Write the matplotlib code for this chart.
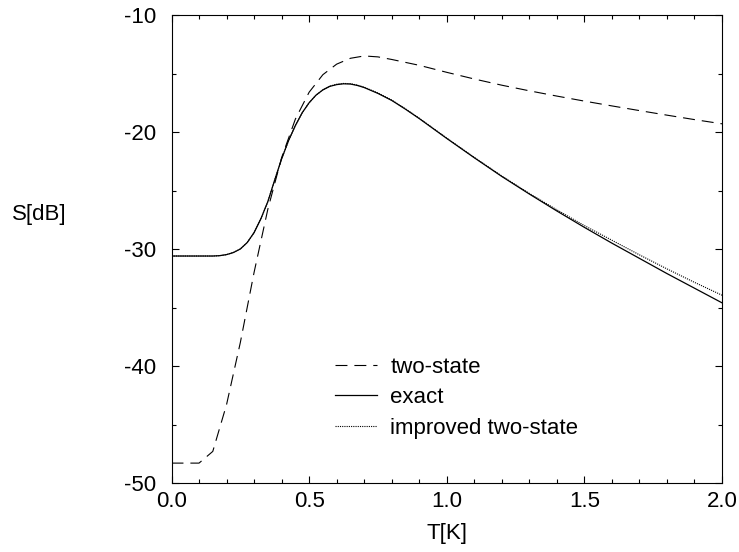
import numpy as np
import matplotlib
matplotlib.use("Agg")
import matplotlib.pyplot as plt
from matplotlib.ticker import MultipleLocator, FormatStrFormatter

# -----------------------------
# Data
# -----------------------------
T_exact = [0.0, 0.1, 0.15, 0.175, 0.2, 0.225, 0.25, 0.275, 0.3, 0.325, 0.35,
           0.375, 0.4, 0.425, 0.45, 0.475, 0.5, 0.525, 0.55, 0.575, 0.6,
           0.625, 0.65, 0.675, 0.7, 0.75, 0.8, 0.85, 0.9, 0.95, 1.0, 1.1,
           1.2, 1.3, 1.4, 1.5, 1.6, 1.7, 1.8, 1.9, 2.0]
S_exact = [-30.6, -30.6, -30.6, -30.57, -30.48, -30.3, -30.0, -29.45, -28.6,
           -27.4, -25.95, -24.1, -22.3, -20.75, -19.45, -18.35, -17.5, -16.85,
           -16.4, -16.1, -15.95, -15.88, -15.9, -16.02, -16.2, -16.7, -17.3,
           -18.05, -18.85, -19.7, -20.55, -22.2, -23.8, -25.3, -26.75, -28.15,
           -29.5, -30.8, -32.1, -33.35, -34.6]

# improved two-state follows exact, drifts upward above ~1.3 K
S_improved = [-30.6, -30.6, -30.6, -30.57, -30.48, -30.3, -30.0, -29.45, -28.6,
              -27.4, -25.95, -24.1, -22.3, -20.75, -19.45, -18.35, -17.5, -16.85,
              -16.4, -16.08, -15.92, -15.85, -15.87, -15.99, -16.17, -16.67,
              -17.27, -18.02, -18.82, -19.67, -20.52, -22.17, -23.76, -25.25,
              -26.65, -28.0, -29.25, -30.5, -31.7, -32.85, -33.95]

T_two = [0.0, 0.05, 0.1, 0.15, 0.2, 0.25, 0.3, 0.35, 0.4, 0.45, 0.5, 0.55,
         0.6, 0.65, 0.7, 0.75, 0.8, 0.9, 1.0, 1.1, 1.2, 1.3, 1.4, 1.5, 1.6,
         1.7, 1.8, 1.9, 2.0]
S_two = [-48.3, -48.3, -48.3, -47.3, -43.3, -38.0, -32.0, -26.6, -22.2, -18.9,
         -16.6, -15.1, -14.2, -13.7, -13.5, -13.58, -13.8, -14.3, -14.9,
         -15.47, -16.0, -16.48, -16.93, -17.36, -17.77, -18.17, -18.56,
         -18.94, -19.3]

labels = ["two-state", "exact", "improved two-state"]

# -----------------------------
# Plot
# -----------------------------
plt.rcParams["font.family"] = ["Liberation Sans", "DejaVu Sans"]
plt.rcParams["axes.unicode_minus"] = False
plt.rcParams["lines.scale_dashes"] = False

FS = 16

fig = plt.figure(figsize=(7.39, 5.52), dpi=100)
ax = fig.add_axes([171.5 / 739, 1 - 483 / 552, 550.5 / 739, 468 / 552])

ax.plot(T_two, S_two, color="black", lw=0.8, dashes=(8.6, 5.0), label=labels[0])
ax.plot(T_exact, S_exact, color="black", lw=0.9, label=labels[1])
ax.plot(T_exact, S_improved, color="black", lw=0.8, dashes=(0.8, 0.8), label=labels[2])

ax.set_xlim(0.0, 2.0)
ax.set_ylim(-50, -10)
ax.xaxis.set_major_locator(MultipleLocator(0.5))
ax.xaxis.set_minor_locator(MultipleLocator(0.1))
ax.yaxis.set_major_locator(MultipleLocator(10))
ax.yaxis.set_minor_locator(MultipleLocator(5))
ax.xaxis.set_major_formatter(FormatStrFormatter("%.1f"))
ax.yaxis.set_major_formatter(FormatStrFormatter("%d"))

ax.tick_params(which="both", direction="in", top=True, right=True,
               width=0.8, labelsize=FS, color="black")
ax.tick_params(which="major", length=5)
ax.tick_params(which="minor", length=2.7)
ax.tick_params(axis="x", pad=6)
ax.tick_params(axis="y", pad=11)
for sp in ax.spines.values():
    sp.set_linewidth(0.8)

ax.set_xlabel("T[K]", fontsize=FS, va="center")
ax.xaxis.set_label_coords(0.5, -0.107)
ax.set_ylabel("S[dB]", fontsize=FS, rotation=0, ha="left", va="center")
ax.yaxis.set_label_coords(-0.29, 0.573)

ax.legend(frameon=False, loc="upper left", bbox_to_anchor=(0.297, 0.27),
          borderpad=0, borderaxespad=0, fontsize=FS, handlelength=1.9,
          handletextpad=0.59, labelspacing=0.43)

fig.savefig("out.png", dpi=100)
